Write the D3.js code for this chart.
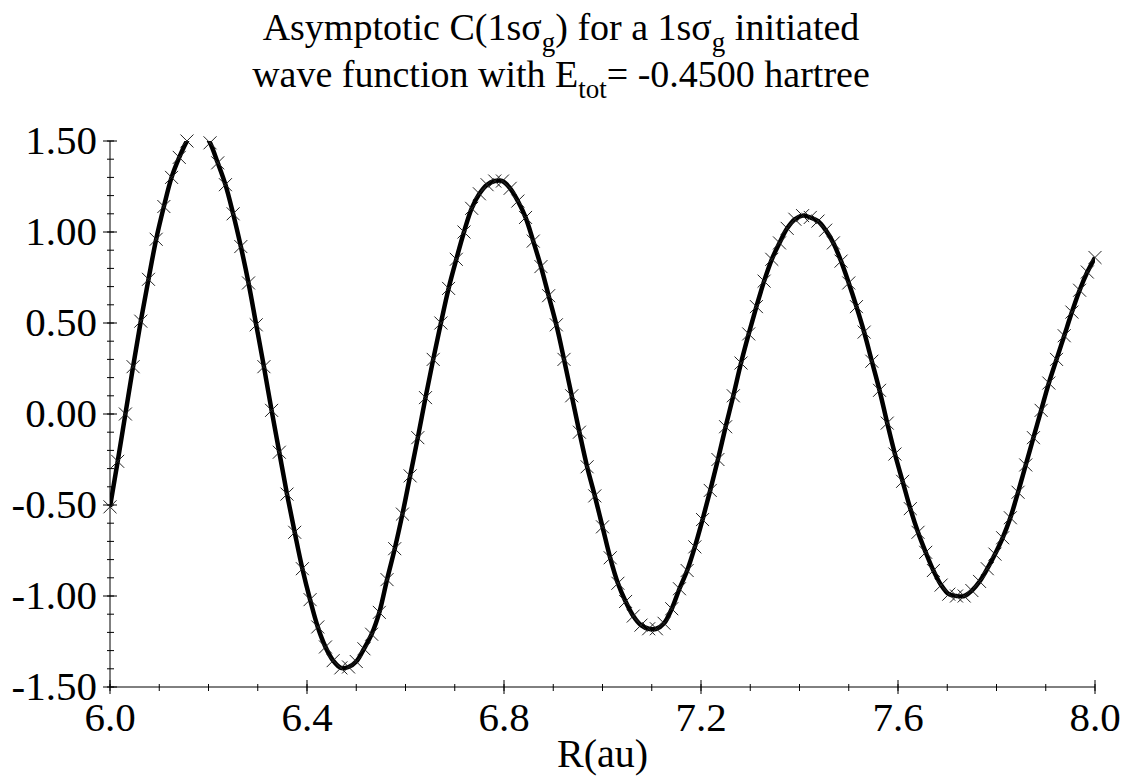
<!DOCTYPE html>
<html>
<head>
<meta charset="utf-8">
<script src="https://cdn.jsdelivr.net/npm/d3@7"></script>
<style>
    body { margin: 0; background: #fff; }
    text { font-family: "Liberation Serif", "Times New Roman", serif; fill: #000; }
</style>
</head>
<body>
<svg id="chart" width="1122" height="776"></svg>
<script>
// sampling grid of R (au)
var rStart = 6.0
var rStep = 1 / 64

// C(1s sigma g), one value per marker
var cValues = [
    -0.51, -0.26, 0.00, 0.26, 0.51, 0.74, 0.96, 1.14, 1.30, 1.41,
    1.50, 1.56, 1.56, 1.49, 1.38, 1.26, 1.10, 0.92, 0.72, 0.49,
    0.26, 0.02, -0.21, -0.44, -0.65, -0.85, -1.02, -1.17, -1.28, -1.355,
    -1.395, -1.39, -1.36, -1.29, -1.21, -1.09, -0.91, -0.74, -0.55, -0.34,
    -0.13, 0.09, 0.30, 0.50, 0.69, 0.85, 1.00, 1.13, 1.21, 1.26,
    1.28, 1.28, 1.24, 1.17, 1.08, 0.95, 0.81, 0.65, 0.49, 0.30,
    0.10, -0.10, -0.29, -0.45, -0.62, -0.79, -0.93, -1.03, -1.11, -1.16,
    -1.18, -1.18, -1.15, -1.07, -0.96, -0.86, -0.73, -0.58, -0.42, -0.25,
    -0.07, 0.10, 0.28, 0.44, 0.59, 0.73, 0.85, 0.94, 1.02, 1.07,
    1.09, 1.08, 1.06, 1.01, 0.94, 0.84, 0.72, 0.59, 0.45, 0.29,
    0.13, -0.05, -0.22, -0.37, -0.52, -0.65, -0.76, -0.86, -0.94, -0.99,
    -1.00, -1.00, -0.97, -0.92, -0.85, -0.77, -0.68, -0.57, -0.43, -0.28,
    -0.13, 0.02, 0.17, 0.30, 0.43, 0.56, 0.68, 0.78, 0.86
]

var xTicks = [6.0, 6.4, 6.8, 7.2, 7.6, 8.0]
var xTickLabels = ["6.0", "6.4", "6.8", "7.2", "7.6", "8.0"]
var yTicks = [1.5, 1.0, 0.5, 0.0, -0.5, -1.0, -1.5]
var yTickLabels = ["1.50", "1.00", "0.50", "0.00", "-0.50", "-1.00", "-1.50"]

var titleLine1 = [["Asymptotic C(1sσ", 0], ["g", 1], [") for a 1sσ", 0], ["g", 1], [" initiated", 0]]
var titleLine2 = [["wave function with E", 0], ["tot", 1], ["= -0.4500 hartree", 0]]
var xLabel = "R(au)"

var points = cValues.map(function(v, i) {
    return { r: rStart + i * rStep, c: v }
})

var plotLeft = 110, plotRight = 1095, plotTop = 141, plotBottom = 687

var svg = d3.select("#chart")

var x = d3.scaleLinear().domain([6.0, 8.0]).range([plotLeft, plotRight])
var y = d3.scaleLinear().domain([-1.5, 1.5]).range([plotBottom, plotTop])

svg.append("defs").append("clipPath").attr("id", "plotClip")
    .append("rect")
    .attr("x", plotLeft)
    .attr("y", plotTop)
    .attr("width", plotRight - plotLeft)
    .attr("height", plotBottom - plotTop)

// bottom axis: major ticks crossing the line plus minor ticks
var xAxis = svg.append("g").attr("transform", "translate(0," + plotBottom + ")")
xAxis.append("line").attr("x1", plotLeft).attr("x2", plotRight).attr("stroke", "#000").attr("stroke-width", 1)
xAxis.selectAll(".minor")
    .data(d3.range(6.0, 8.0001, 0.1))
    .enter()
    .append("line")
    .attr("class", "minor")
    .attr("x1", function(d) { return x(d) })
    .attr("x2", function(d) { return x(d) })
    .attr("y1", -3)
    .attr("y2", 4)
    .attr("stroke", "#000")
xAxis.selectAll(".major")
    .data(xTicks)
    .enter()
    .append("line")
    .attr("class", "major")
    .attr("x1", function(d) { return x(d) })
    .attr("x2", function(d) { return x(d) })
    .attr("y1", -7)
    .attr("y2", 7)
    .attr("stroke", "#000")
xAxis.selectAll("text")
    .data(xTicks)
    .enter()
    .append("text")
    .attr("x", function(d) { return x(d) })
    .attr("y", 44)
    .attr("text-anchor", "middle")
    .style("font-size", "41px")
    .text(function(d, i) { return xTickLabels[i] })

svg.append("text")
    .attr("x", (plotLeft + plotRight) / 2)
    .attr("y", 767)
    .attr("text-anchor", "middle")
    .style("font-size", "40px")
    .text(xLabel)

// left axis
var yAxis = svg.append("g").attr("transform", "translate(" + plotLeft + ",0)")
yAxis.append("line").attr("y1", plotTop).attr("y2", plotBottom).attr("stroke", "#000").attr("stroke-width", 1)
yAxis.selectAll(".minor")
    .data(d3.range(-1.5, 1.5001, 0.1))
    .enter()
    .append("line")
    .attr("class", "minor")
    .attr("y1", function(d) { return y(d) })
    .attr("y2", function(d) { return y(d) })
    .attr("x1", -3)
    .attr("x2", 4)
    .attr("stroke", "#000")
yAxis.selectAll(".major")
    .data(yTicks)
    .enter()
    .append("line")
    .attr("class", "major")
    .attr("y1", function(d) { return y(d) })
    .attr("y2", function(d) { return y(d) })
    .attr("x1", -7)
    .attr("x2", 7)
    .attr("stroke", "#000")
yAxis.selectAll("text")
    .data(yTicks)
    .enter()
    .append("text")
    .attr("x", -13)
    .attr("y", function(d) { return y(d) + 13 })
    .attr("text-anchor", "end")
    .style("font-size", "41px")
    .text(function(d, i) { return yTickLabels[i] })

// curve
var line = d3.line()
    .x(function(d) { return x(d.r) })
    .y(function(d) { return y(d.c) })
    .curve(d3.curveCatmullRom)

svg.append("path")
    .datum(points)
    .attr("clip-path", "url(#plotClip)")
    .attr("d", line)
    .attr("fill", "none")
    .attr("stroke", "#000")
    .attr("stroke-width", 4.5)
    .attr("stroke-linejoin", "round")

// cross markers, points above the top of the frame are not drawn
var s = 6.5
svg.append("g").selectAll("path")
    .data(points.filter(function(d) { return d.c <= 1.5 && d.c >= -1.5 }))
    .enter()
    .append("path")
    .attr("d", function(d) {
        var px = x(d.r), py = y(d.c)
        return "M" + (px - s) + "," + (py - s) + "L" + (px + s) + "," + (py + s) +
            "M" + (px - s) + "," + (py + s) + "L" + (px + s) + "," + (py - s)
    })
    .attr("stroke", "#222")
    .attr("stroke-width", 1)
    .attr("fill", "none")

// title with subscripts
function titleLine(parts, yPos) {
    var t = svg.append("text")
        .attr("x", 561)
        .attr("y", yPos)
        .attr("text-anchor", "middle")
        .style("font-size", "38px")
    var down = false
    parts.forEach(function(p) {
        var ts = t.append("tspan").text(p[0])
        if (p[1] && !down) {
            ts.attr("dy", 11).style("font-size", "27px")
            down = true
        } else if (!p[1] && down) {
            ts.attr("dy", -11)
            down = false
        }
    })
}
titleLine(titleLine1, 40)
titleLine(titleLine2, 87)
</script>
</body>
</html>
